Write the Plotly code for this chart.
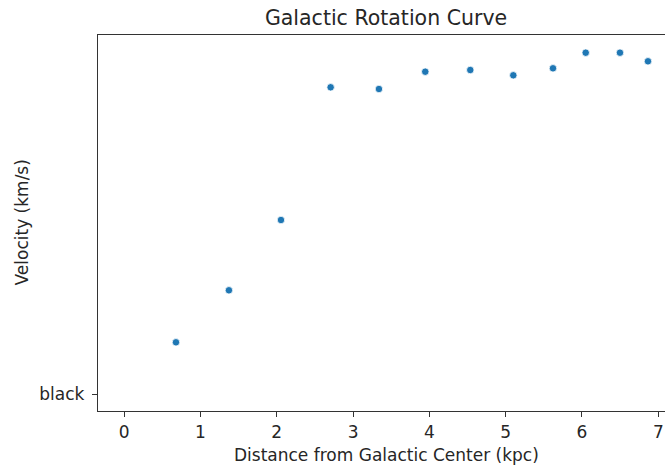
import plotly.graph_objects as go

# Measured rotation curve: galactocentric distance (kpc) and velocity (km/s)
distance_kpc = [0.679, 1.373, 2.055, 2.706, 3.339, 3.946, 4.536, 5.10, 5.62, 6.049, 6.498, 6.865]
velocity_kms = [36.2, 72.6, 121.8, 214.7, 213.5, 225.6, 226.8, 223.1, 228.0, 238.9, 238.9, 232.9]

x_ticks = [0, 1, 2, 3, 4, 5, 6, 7]
y_tick_vals = [0]
y_tick_text = ["black"]

FONT = "DejaVu Sans"
AXIS_COLOR = "#333333"
TEXT_COLOR = "#262626"

fig = go.Figure(
    go.Scatter(
        x=distance_kpc,
        y=velocity_kms,
        mode="markers",
        marker=dict(size=7.5, color="#1f77b4", line=dict(color="white", width=0.8)),
        showlegend=False,
    )
)

fig.update_layout(
    width=665,
    height=466,
    margin=dict(l=98, r=0, t=35, b=55),
    plot_bgcolor="white",
    paper_bgcolor="white",
    font=dict(family=FONT, size=17, color=TEXT_COLOR),
    title=dict(
        text="Galactic Rotation Curve",
        x=0.508,
        xref="paper",
        xanchor="center",
        y=1 - 18 / 466,
        yref="container",
        yanchor="middle",
        font=dict(family=FONT, size=20.5, color=TEXT_COLOR),
    ),
    annotations=[
        dict(
            text="Distance from Galactic Center (kpc)",
            x=0.508, xref="paper", xanchor="center",
            y=-(455 - 411) / 376, yref="paper", yanchor="middle",
            showarrow=False,
            font=dict(family=FONT, size=17, color=TEXT_COLOR),
        ),
        dict(
            text="Velocity (km/s)",
            x=-(98 - 21.5) / 567, xref="paper", xanchor="center",
            y=0.5, yref="paper", yanchor="middle",
            textangle=-90,
            showarrow=False,
            font=dict(family=FONT, size=17, color=TEXT_COLOR),
        ),
    ],
)

fig.update_xaxes(
    range=[-0.343, 7.088],
    tickvals=x_ticks,
    ticks="outside",
    ticklen=5,
    tickwidth=1.2,
    tickcolor=AXIS_COLOR,
    showline=True,
    linecolor=AXIS_COLOR,
    linewidth=1.3,
    mirror=True,
    showgrid=False,
    zeroline=False,
)

fig.update_yaxes(
    range=[-11.9, 251.3],
    tickvals=y_tick_vals,
    ticktext=y_tick_text,
    ticks="outside",
    ticklen=5,
    tickwidth=1.2,
    tickcolor=AXIS_COLOR,
    ticklabelstandoff=4,
    showline=True,
    linecolor=AXIS_COLOR,
    linewidth=1.3,
    mirror=False,
    showgrid=False,
    zeroline=False,
)

fig.write_html("out.html")
